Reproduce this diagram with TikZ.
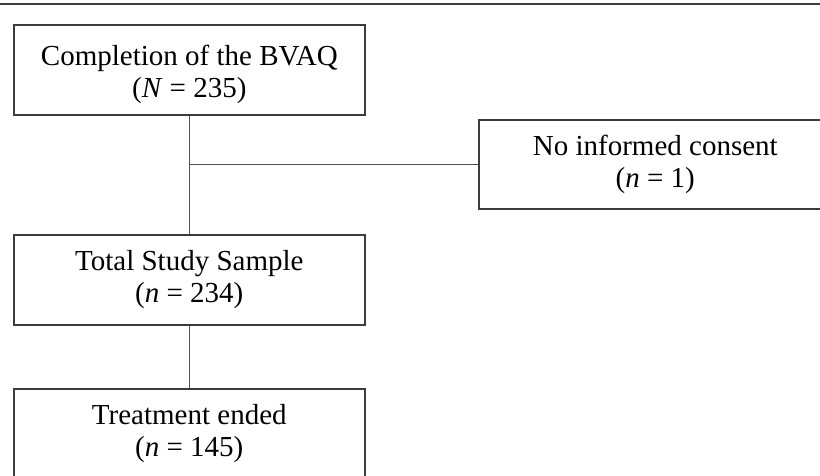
\documentclass[tikz,border=0pt]{standalone}
\usepackage{fontspec}
\setmainfont{Liberation Serif}
\definecolor{boxline}{HTML}{3C3C3C}
\definecolor{connline}{HTML}{505050}
\begin{document}
\begin{tikzpicture}[x=1pt,y=-1pt,
  flowbox/.style={draw=boxline, line width=1.6pt, fill=white, minimum width=351pt, minimum height=90pt,
    align=center, font=\fontsize{29}{32}\selectfont, inner sep=0pt, anchor=north west},
  conn/.style={draw=connline, line width=1.4pt}]
\useasboundingbox (0,0) rectangle (820,476);
\clip (0,0) rectangle (820,476);
\fill[white] (0,0) rectangle (820,476);
\draw[boxline, line width=1.6pt] (0,4) -- (820,4);
\node[flowbox] (b1) at (13,24) {\raisebox{-12pt}[0pt][0pt]{\begin{tabular}{@{}c@{}}Completion of the BVAQ\\(\textit{N} = 235)\end{tabular}}};
\node[flowbox, minimum width=353pt, minimum height=89pt] (b2) at (478,119) {No informed consent\\(\textit{n} = 1)};
\node[flowbox] (b3) at (13,234) {Total Study Sample\\(\textit{n} = 234)};
\node[flowbox] (b4) at (13,388) {Treatment ended\\(\textit{n} = 145)};
\coordinate (j) at (b1.south |- b2.west);
\draw[conn] (b1.south) -- (b3.north);
\draw[conn] (j) -- (b2.west);
\draw[conn] (b3.south) -- (b4.north);
\end{tikzpicture}
\end{document}
